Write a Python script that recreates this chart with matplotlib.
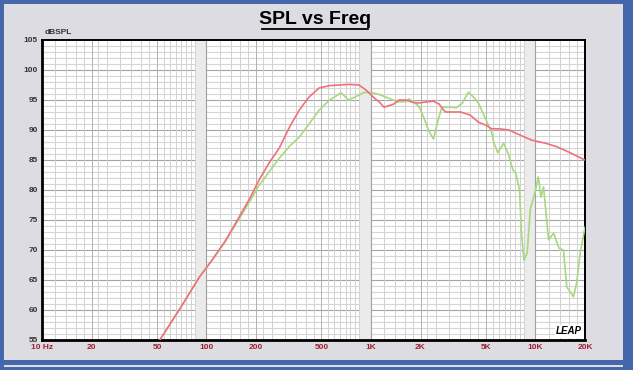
import numpy as np
import matplotlib.pyplot as plt
from matplotlib.patches import Rectangle

# red curve (freq Hz, dBSPL)
red_f = [50, 52, 70, 90.6, 108, 130, 158, 185, 209, 240, 277, 320, 366, 420, 484, 560, 639,
         740, 844, 929, 970, 1050, 1120, 1200, 1370, 1480, 1630, 1800, 1950, 2200, 2400, 2600,
         2770, 2840, 3200, 3500, 4000, 4500, 5000, 5400, 6000, 6900, 8000, 9500, 11500,
         13500, 16000, 18000, 20000]
red_db = [54.5, 55, 60.5, 65.5, 68.3, 71.5, 75.5, 78.8, 81.7, 84.5, 87, 90.5, 93.3, 95.5, 97,
          97.4, 97.5, 97.6, 97.5, 96.7, 96.2, 95.3, 94.7, 93.8, 94.3, 95, 95, 94.6, 94.5, 94.7,
          94.8, 94.3, 93.3, 93, 93, 93, 92.5, 91.3, 90.8, 90.2, 90.2, 90, 89.2, 88.3, 87.8,
          87.2, 86.3, 85.6, 85]

# green curve (freq Hz, dBSPL)
green_f = [50, 52, 70, 90.6, 108, 130, 158, 185, 209, 240, 277, 320, 366, 420, 484, 560,
           658, 700, 730, 800, 900, 970, 1100, 1280, 1450, 1630, 1700, 1800, 1950, 2100, 2250,
           2400, 2550, 2700, 3000, 3300, 3600, 3900, 4200, 4500, 5000, 5400, 5600, 5900, 6400,
           6800, 7300, 7600, 8000, 8200, 8500, 8900, 9300, 10000, 10400, 10800, 11200, 12000,
           12900, 13900, 14800, 15500, 16300, 17000, 17800, 18700, 20000]
green_db = [54.5, 55, 60.5, 65.5, 68.3, 71.4, 75.2, 78.3, 80.8, 83, 85.3, 87.3, 88.8, 91,
            93.3, 95, 96.2, 95.5, 95, 95.5, 96.2, 96.3, 96, 95.3, 94.7, 94.7, 95.2, 94.7,
            94, 92, 89.8, 88.5, 91.5, 93.8, 93.8, 93.7, 94.5, 96.3, 95.5, 94.5, 91.7, 89.7,
            87.8, 86.2, 87.8, 86.2, 83.3, 82.8, 80, 73.3, 68.3, 69.5, 76.7, 80, 82.2, 78.8,
            80.5, 71.7, 72.8, 70.3, 70, 63.8, 63, 62.2, 64.5, 69.5, 73.8]

ytick_vals = [55, 60, 65, 70, 75, 80, 85, 90, 95, 100, 105]
xtick_vals = [10, 20, 50, 100, 200, 500, 1000, 2000, 5000, 10000, 20000]
xtick_labels = ['10 Hz', '20', '50', '100', '200', '500', '1K', '2K', '5K', '10K', '20K']

W, H = 633, 370
fig = plt.figure(figsize=(W / 100, H / 100), dpi=100)
fig.patch.set_facecolor('#dcdce2')

# window frame
blue = '#4466aa'
fig.patches.append(Rectangle((0, 0), 1, 1, transform=fig.transFigure, fill=False,
                             edgecolor=blue, linewidth=5))
fig.patches.append(Rectangle((623 / W, 0), 10 / W, 1, transform=fig.transFigure,
                             facecolor=blue, edgecolor='none'))
fig.patches.append(Rectangle((0, 5 / H), 1, 5 / H, transform=fig.transFigure,
                             facecolor=blue, edgecolor='none'))

ax = fig.add_axes([42 / W, 1 - 340 / H, 543 / W, 300 / H])
ax.set_facecolor('white')
ax.set_xscale('log')
ax.set_xlim(10, 20000)
ax.set_ylim(55, 105)

# grid
for db in range(56, 105):
    c = '#a4a4a4' if db % 5 == 0 else '#d6d6d6'
    ax.axhline(db, color=c, linewidth=0.8, zorder=0)
mant = [1.2, 1.4, 1.6, 1.8, 2, 2.2, 2.5, 3, 3.5, 4, 4.5, 5, 5.5, 6, 6.5, 7, 7.5,
        8, 8.5, 9, 9.5]
for dec in [10, 100, 1000, 10000]:
    for m in mant:
        f = dec * m
        if f < 20000:
            c = '#b0b0b0' if m in (2, 5) else '#d2d2d2'
            ax.axvline(f, color=c, linewidth=0.7, zorder=0)
    if dec > 10:
        ax.axvline(dec, color='#a0a0a0', linewidth=0.8, zorder=0)
    ax.axvspan(dec * 8.6, dec * 10, color='#ebebeb', zorder=0, linewidth=0)

ax.plot(green_f, green_db, color='#a8d880', linewidth=1.2, zorder=3)
ax.plot(red_f, red_db, color='#f0707c', linewidth=1.2, zorder=4)

for s in ['left', 'bottom']:
    ax.spines[s].set_linewidth(2)
for s in ['top', 'right']:
    ax.spines[s].set_linewidth(1.4)

ax.set_yticks(ytick_vals)
ax.set_yticklabels([str(v) for v in ytick_vals], fontsize=6, fontweight='bold',
                   color='#333333', family='Liberation Sans')
ax.set_xticks(xtick_vals)
ax.set_xticklabels(xtick_labels, fontsize=6, fontweight='bold', color='#a02030',
                   family='Liberation Sans')
ax.xaxis.set_minor_locator(plt.NullLocator())
ax.tick_params(length=0, pad=3)

ax.text(0.004, 1.012, 'dBSPL', transform=ax.transAxes, fontsize=6, fontweight='bold',
        color='#333333', family='Liberation Sans', va='bottom')

ax.text(0.995, 0.012, 'LEAP', transform=ax.transAxes, fontsize=7, fontweight='bold',
        fontstyle='italic', color='black', family='Liberation Sans', ha='right', va='bottom',
        bbox=dict(facecolor='white', edgecolor='none', pad=1), zorder=5)

fig.text(315 / W, 1 - 20 / H, 'SPL vs Freq', fontsize=14, fontweight='bold',
         family='Liberation Sans', ha='center', va='center', color='black')
fig.add_artist(plt.Line2D([262 / W, 368 / W], [1 - 29 / H, 1 - 29 / H], color='black',
                          linewidth=1.3, transform=fig.transFigure))

fig.savefig('out.png', dpi=100, facecolor=fig.get_facecolor())
